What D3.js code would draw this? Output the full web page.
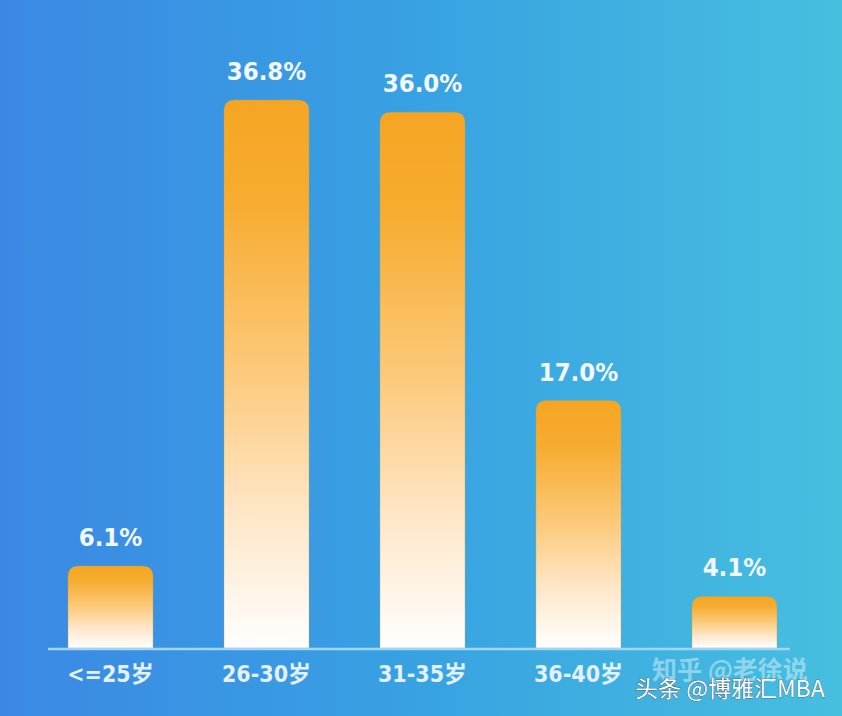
<!DOCTYPE html>
<html><head><meta charset="utf-8">
<script src="https://cdn.jsdelivr.net/npm/d3@7"></script>
<style>html,body{margin:0;padding:0;overflow:hidden;}svg{display:block;}</style>
</head><body>
<svg id="chart" width="842" height="716"></svg>
<script>
const categories = ["<=25岁", "26-30岁", "31-35岁", "36-40岁", ">40岁"];
const values = [6.1, 36.8, 36.0, 17.0, 4.1];
const valueLabels = ["6.1%", "36.8%", "36.0%", "17.0%", "4.1%"];
const shownCategoryLabels = ["<=25岁", "26-30岁", "31-35岁", "36-40岁", ""];

const W = 842, H = 716;
const svg = d3.select("#chart");
const defs = svg.append("defs");

const bg = defs.append("linearGradient").attr("id","bg").attr("x1","0").attr("x2","1").attr("y1","0").attr("y2","0");
bg.append("stop").attr("offset","0").attr("stop-color","#3b88e4");
bg.append("stop").attr("offset","0.5").attr("stop-color","#38a2e2");
bg.append("stop").attr("offset","1").attr("stop-color","#46bfdf");

const bar = defs.append("linearGradient").attr("id","bar").attr("x1","0").attr("x2","0").attr("y1","0").attr("y2","1");
bar.append("stop").attr("offset","0").attr("stop-color","#f5a522");
bar.append("stop").attr("offset","0.2").attr("stop-color","#f7ad32");
bar.append("stop").attr("offset","0.5").attr("stop-color","#fcca7c");
bar.append("stop").attr("offset","0.75").attr("stop-color","#ffe6c6");
bar.append("stop").attr("offset","1").attr("stop-color","#ffffff");

svg.append("rect").attr("width",W).attr("height",H).attr("fill","url(#bg)");

const baseline = 648;
const x = d3.scaleBand().domain(categories).range([0, 845]).paddingInner(0.455).paddingOuter(0.436);
const y = d3.scaleLinear().domain([0.7, 36.8]).range([baseline, 100]);

const r = 11;
function barPath(x0, y0, w, h) {
  const rr = Math.min(r, h / 2, w / 2);
  return `M${x0},${y0 + h}V${y0 + rr}Q${x0},${y0} ${x0 + rr},${y0}H${x0 + w - rr}Q${x0 + w},${y0} ${x0 + w},${y0 + rr}V${y0 + h}Z`;
}

svg.append("g").selectAll("path").data(values).join("path")
  .attr("d", (d, i) => barPath(x(categories[i]), y(d), x.bandwidth(), baseline - y(d)))
  .attr("fill", "url(#bar)")
  .attr("stroke", "#c9a23a").attr("stroke-opacity", 0.35).attr("stroke-width", 1);

// axis baseline
svg.append("line").attr("x1", 48).attr("x2", 790).attr("y1", baseline + 1).attr("y2", baseline + 1)
  .attr("stroke", "#9fd6f4").attr("stroke-width", 2.5);

// value labels
svg.append("g").selectAll("text").data(values).join("text")
  .attr("x", (d, i) => x(categories[i]) + x.bandwidth() / 2)
  .attr("y", d => y(d) - 20)
  .attr("text-anchor", "middle")
  .attr("font-family", "'DejaVu Sans Condensed', 'DejaVu Sans', sans-serif")
  .attr("font-weight", "bold").attr("font-size", 25.5)
  .attr("fill", "#f2f8ff")
  .text((d, i) => valueLabels[i]);

// category labels
svg.append("g").selectAll("text").data(categories).join("text")
  .attr("x", d => x(d) + x.bandwidth() / 2)
  .attr("y", 682)
  .attr("text-anchor", "middle")
  .attr("font-family", "'DejaVu Sans Condensed', 'Noto Sans CJK SC', sans-serif")
  .attr("font-weight", "bold").attr("font-size", 23)
  .attr("fill", "#e2f1fc")
  .text((d, i) => shownCategoryLabels[i]);

// watermarks
svg.append("text").attr("x", 652).attr("y", 679)
  .attr("font-family", "'Noto Sans CJK SC', sans-serif").attr("font-weight", "bold").attr("font-size", 25)
  .attr("fill", "#ffffff").attr("fill-opacity", 0.42).text("知乎 @老徐说");
svg.append("text").attr("x", 635).attr("y", 697)
  .attr("font-family", "'Noto Sans CJK SC', sans-serif").attr("font-size", 23)
  .attr("fill", "#ffffff").attr("stroke", "#333").attr("stroke-width", 0.6).attr("paint-order", "stroke")
  .text("头条 @博雅汇MBA");
</script>
</body></html>
